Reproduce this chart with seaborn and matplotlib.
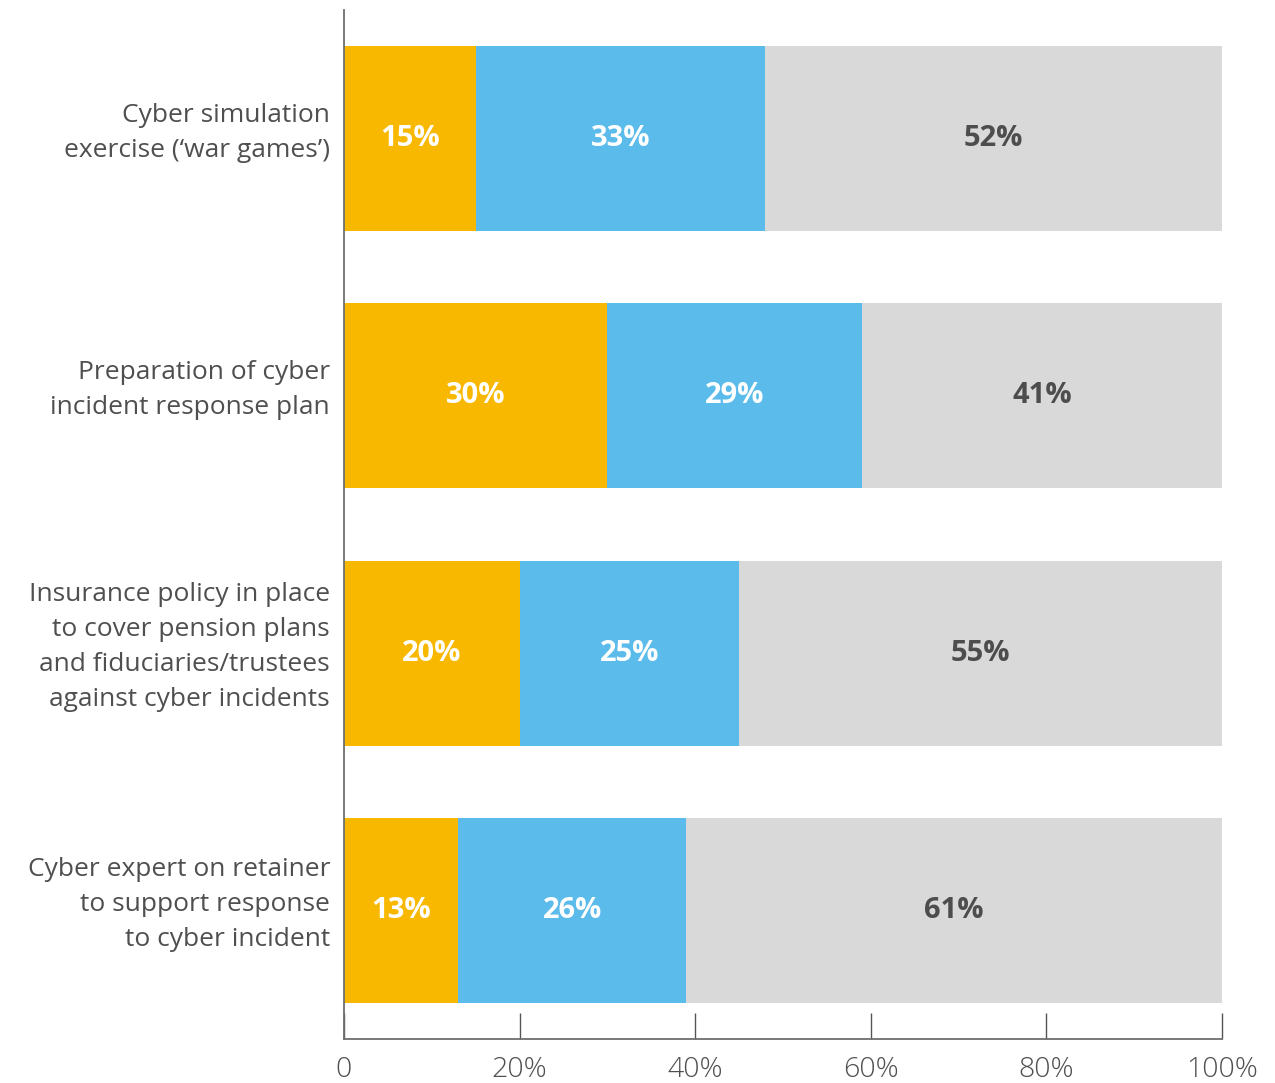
import matplotlib
matplotlib.use("Agg")
import matplotlib.pyplot as plt
import matplotlib.transforms as mtransforms
import numpy as np
import pandas as pd
import seaborn as sns

categories = [
    "Cyber simulation\nexercise (\u2018war games\u2019)",
    "Preparation of cyber\nincident response plan",
    "Insurance policy in place\nto cover pension plans\nand fiduciaries/trustees\nagainst cyber incidents",
    "Cyber expert on retainer\nto support response\nto cyber incident",
]
seg_orange = [15, 30, 20, 13]
seg_blue = [33, 29, 25, 26]
seg_gray = [52, 41, 55, 61]

tick_values = [0, 20, 40, 60, 80, 100]
tick_labels = ["0", "20%", "40%", "60%", "80%", "100%"]

colors = ["#F9B800", "#5BBBEB", "#D9D9D9"]
label_colors = ["white", "white", "#4D4D4D"]
text_color = "#4F4F4F"

sns.set_theme(style="white")
plt.rcParams["font.family"] = ["Open Sans", "DejaVu Sans"]

segments = np.array([seg_orange, seg_blue, seg_gray], dtype=float)
cum = np.cumsum(segments, axis=0)
starts = cum - segments

fig = plt.figure(figsize=(12.75, 10.83), dpi=100)
ax = fig.add_axes([344 / 1275, 1 - 1039 / 1083, 878 / 1275, 1029 / 1083])

# Stacked bars: draw the cumulative totals from the outermost segment inward
for i in reversed(range(3)):
    df = pd.DataFrame({"category": categories, "value": cum[i]})
    sns.barplot(data=df, x="value", y="category", orient="h", color=colors[i],
                saturation=1, width=0.72, ax=ax, linewidth=0)

# Value labels in the middle of each segment
for i in range(3):
    for j in range(len(categories)):
        ax.text(starts[i, j] + segments[i, j] / 2, j, f"{segments[i, j]:.0f}%",
                ha="center", va="center", fontsize=21, fontweight="bold",
                color=label_colors[i])

ax.set_xlim(0, 100)
ax.set_ylim(3.5, -0.5)
ax.set_xticks(tick_values)
ax.set_xticklabels(tick_labels)
ax.set_xlabel("")
ax.set_ylabel("")

for side in ["top", "right"]:
    ax.spines[side].set_visible(False)
for side in ["left", "bottom"]:
    ax.spines[side].set_color("#6E6E6E")
    ax.spines[side].set_linewidth(1.3)

ax.tick_params(axis="x", direction="in", length=19, width=1, color="#555555",
               labelsize=20.5, labelcolor=text_color, pad=12, bottom=True)
ax.tick_params(axis="y", length=0, labelsize=19, labelcolor=text_color, pad=10)
for lbl in ax.get_xticklabels():
    lbl.set_fontweight("light")

# Category labels sit slightly above the bar centre
lift = mtransforms.ScaledTranslation(0, 14 / 100, fig.dpi_scale_trans)
for lbl in ax.get_yticklabels():
    lbl.set_linespacing(1.52)
    lbl.set_transform(lbl.get_transform() + lift)

fig.savefig("out.png", dpi=100)
